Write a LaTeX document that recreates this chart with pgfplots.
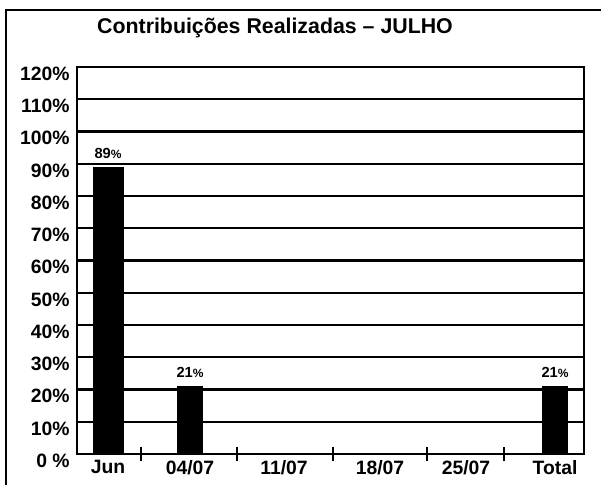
\documentclass[border=0pt]{standalone}
\usepackage{fontspec}
\setmainfont{Liberation Sans}
\usepackage{pgfplots}
\pgfplotsset{compat=1.18}
\begin{document}
\begin{tikzpicture}
\useasboundingbox (-57.75pt,-23.25pt) rectangle (393pt,340.5pt);
% outer frame (left and top edges visible)
\draw[line width=2.2pt] (-53.25pt,-30pt) -- (-53.25pt,333pt) -- (400pt,333pt);
\node[font=\bfseries\fontsize{16}{19}\selectfont] at (148.5pt,319.5pt) {Contribuições Realizadas – JULHO};
\begin{axis}[
  at={(0pt,0pt)}, anchor=origin,
  scale only axis, width=380.25pt, height=290.25pt,
  xmin=77, xmax=584, ymin=0, ymax=120,
  axis line style={line width=2pt},
  ytick={0,10,...,120},
  yticklabels={0 \%,10\%,20\%,30\%,40\%,50\%,60\%,70\%,80\%,90\%,100\%,110\%,120\%},
  yticklabel style={yshift=-5pt, xshift=-2pt},
  ymajorgrids, major grid style={line width=1.6pt, black},
  major tick length=0pt,
  xtick pos=bottom, ytick pos=left,
  xtick={108,190,284,380,466,555},
  xticklabels={Jun,04/07,11/07,18/07,25/07,Total},
  xticklabel style={yshift=-1pt},
  extra x ticks={141,237,333,427,504},
  extra x tick labels={},
  extra x tick style={major tick length=11pt, tick align=center, tick style={line width=1.6pt, black}, grid=none},
  ticklabel style={font=\bfseries\fontsize{14.5}{16}\selectfont},
  nodes near coords={\bfseries\fontsize{11}{12}\selectfont\pgfplotspointmeta{\fontsize{9}{9}\selectfont\%}},
  point meta=explicit symbolic,
  every node near coord/.append style={yshift=3pt},
  clip=false,
]
\addplot[ybar, bar width=22.5pt, fill=black, draw=black] coordinates {(108,89) [89]};
\addplot[ybar, bar width=18.75pt, fill=black, draw=black] coordinates {(190,21) [21] (555,21) [21]};
\end{axis}
\end{tikzpicture}
\end{document}
